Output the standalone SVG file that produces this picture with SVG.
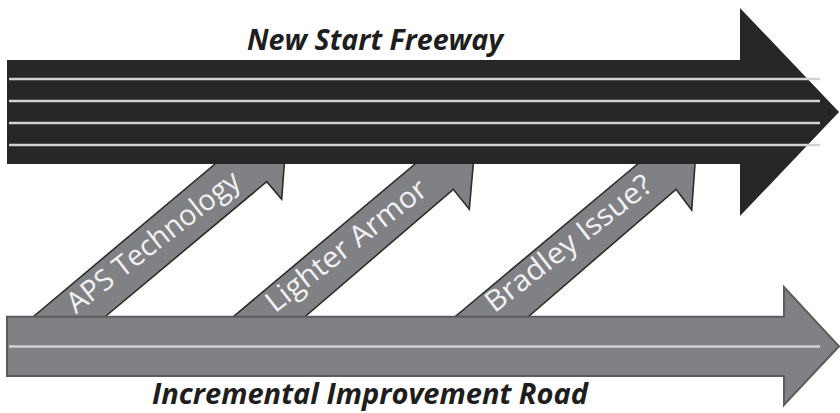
<svg xmlns="http://www.w3.org/2000/svg" width="840" height="413" viewBox="0 0 840 413">
  <style>
    .diag { fill: #808185; stroke: #2c2c2c; stroke-width: 1.6; stroke-linejoin: miter; }
    .dtext { font-family: "Open Sans", "Noto Sans", sans-serif; font-size: 29px; fill: #f2f2f2; }
    .title { font-family: "Open Sans", "Noto Sans", sans-serif; font-size: 29px; font-weight: bold; font-style: italic; fill: #1e1e1e; }
    .lane { stroke: #d2d2d2; stroke-width: 2.6; fill: none; }
  </style>
  <rect width="840" height="413" fill="#ffffff"/>
  <g id="connectors">
    <g id="arrow-aps">
      <polygon class="diag" points="23.4,325 231.7,150 285.3,150 281.7,199.3 266.7,181.7 95.1,325"/>
      <text class="dtext" transform="translate(76,314.5) rotate(-38)" textLength="211" lengthAdjust="spacingAndGlyphs">APS Technology</text>
    </g>
    <g id="arrow-armor">
      <polygon class="diag" points="223.4,325 431.7,150 474.5,150 469.3,209.3 453.3,189.3 295.3,325"/>
      <text class="dtext" transform="translate(275,313.5) rotate(-38)" textLength="196" lengthAdjust="spacingAndGlyphs">Lighter Armor</text>
    </g>
    <g id="arrow-bradley">
      <polygon class="diag" points="445.1,325 654.4,150 696,150 691.7,210 676,189.3 518.7,325"/>
      <text class="dtext" transform="translate(494.5,313.5) rotate(-38)" textLength="203" lengthAdjust="spacingAndGlyphs">Bradley Issue?</text>
    </g>
  </g>
  <g id="incremental-road">
    <polygon points="7,316.7 784,316.7 784,287 839,346.3 784,405 784,376 7,376" fill="#808185" stroke="#5c5c5e" stroke-width="2"/>
    <line class="lane" x1="9" y1="346.5" x2="820" y2="346.5"/>
    <text class="title" x="152" y="404.3" textLength="436" lengthAdjust="spacingAndGlyphs">Incremental Improvement Road</text>
  </g>
  <g id="new-start-freeway">
    <polygon points="7,60 740,60 740,8 839,112 740,216 740,164 7,164" fill="#272526"/>
    <line class="lane" x1="9" y1="79" x2="820" y2="79"/>
    <line class="lane" x1="9" y1="101" x2="820" y2="101"/>
    <line class="lane" x1="9" y1="123" x2="820" y2="123"/>
    <line class="lane" x1="9" y1="145" x2="820" y2="145"/>
    <text class="title" x="247" y="50" textLength="256" lengthAdjust="spacingAndGlyphs">New Start Freeway</text>
  </g>
</svg>
